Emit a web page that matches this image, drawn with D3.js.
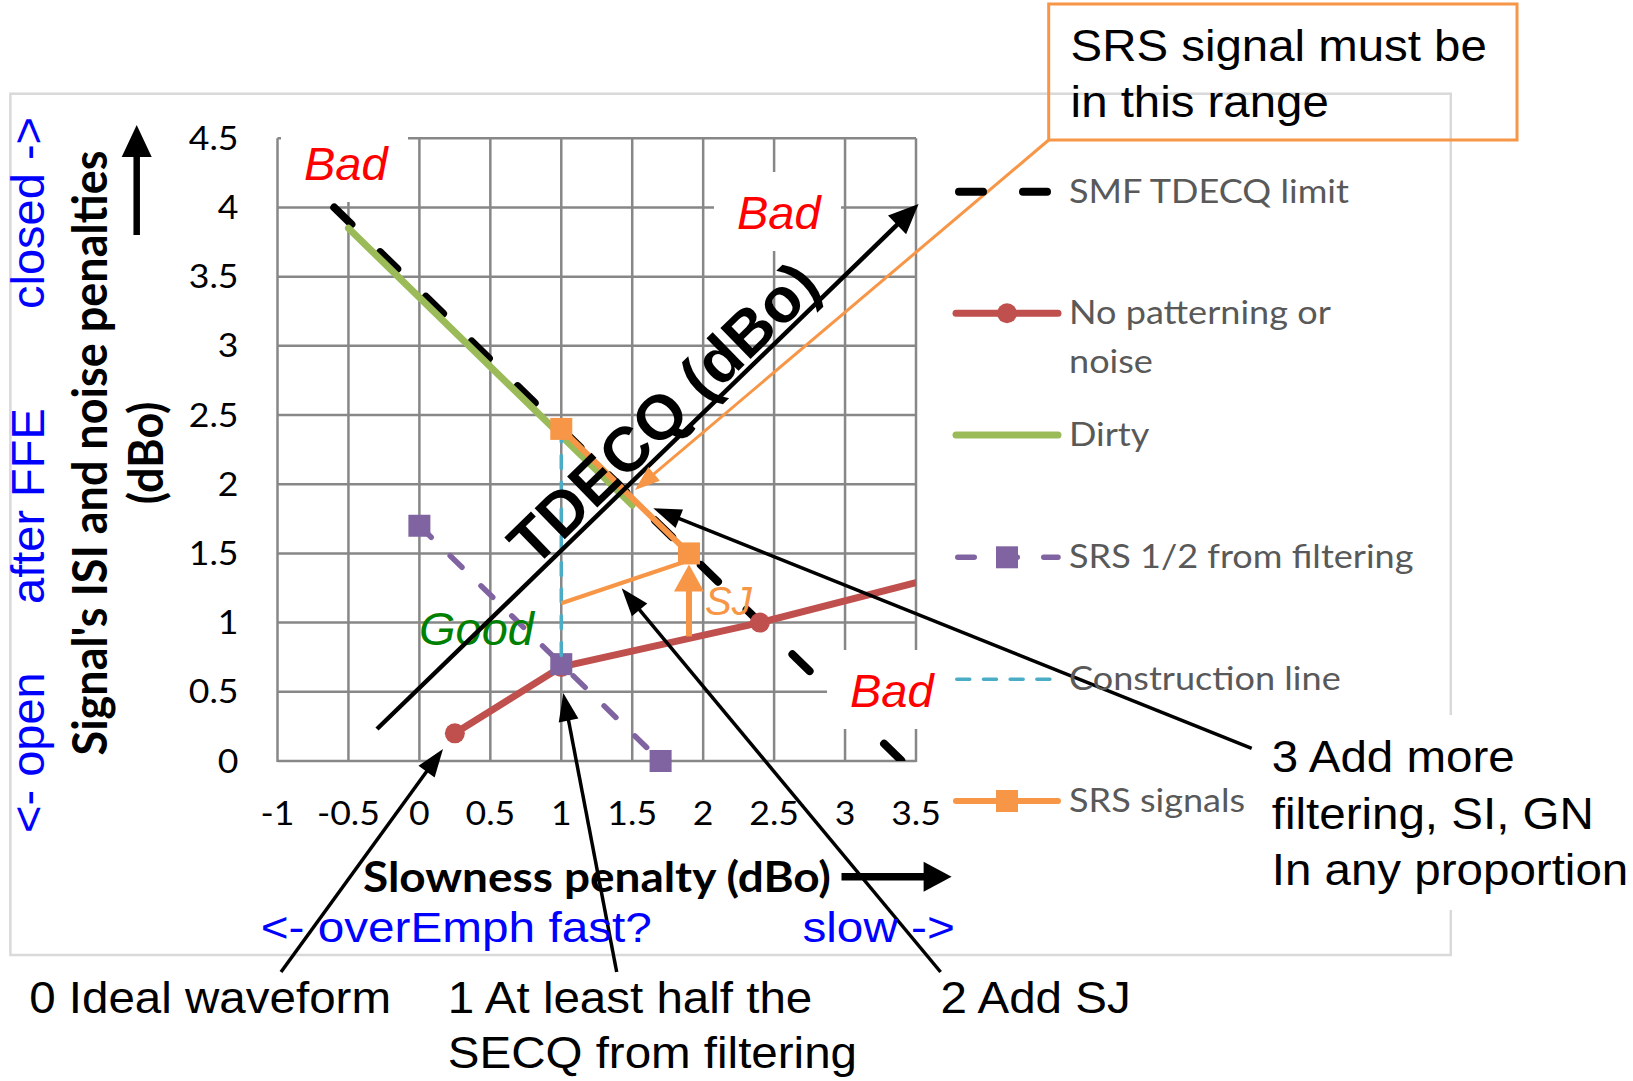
<!DOCTYPE html>
<html><head><meta charset="utf-8">
<script src="https://cdn.jsdelivr.net/npm/d3@7"></script>
<style>
html,body{margin:0;padding:0;background:#fff;}
svg{display:block;}
</style></head>
<body>
<svg id="chart" width="1633" height="1081"></svg>
<script>
// ---------------- data ----------------
const xTicks = [-1, -0.5, 0, 0.5, 1, 1.5, 2, 2.5, 3, 3.5];
const yTicks = [0, 0.5, 1, 1.5, 2, 2.5, 3, 3.5, 4, 4.5];
const xTickLabels = ["-1", "-0.5", "0", "0.5", "1", "1.5", "2", "2.5", "3", "3.5"];
const yTickLabels = ["0", "0.5", "1", "1.5", "2", "2.5", "3", "3.5", "4", "4.5"];
const seriesNames = ["SMF TDECQ limit", "No patterning or noise", "Dirty", "SRS 1/2 from filtering", "Construction line", "SRS signals"];

const smfX = [-0.6, 3.4];          const smfY = [4.0, 0];
const noPatX = [0.25, 1, 2.4, 4];  const noPatY = [0.2, 0.68, 1.0, 1.42];
const dirtyX = [-0.5, 1.5];        const dirtyY = [3.85, 1.85];
const srsHalfX = [0, 1, 1.7];      const srsHalfY = [1.7, 0.7, 0];
const constrX = [1, 1];            const constrY = [2.4, 0.7];
const srsX = [1, 1.9];             const srsY = [2.4, 1.5];

const xTitle = "Slowness penalty (dBo)";
const yTitle = ["Signal's ISI and noise penalties", "(dBo)"];

// ---------------- setup ----------------
const svg = d3.select("#chart");
const x = d3.scaleLinear().domain([-1, 3.5]).range([277.5, 916]);
const y = d3.scaleLinear().domain([0, 4.5]).range([761, 138.3]);
const ARIAL = "'Liberation Sans', Arial, sans-serif";
const CALI = "Lato, Carlito, Calibri, sans-serif";

const zip = (xs, ys) => xs.map((v, i) => [v, ys[i]]);
const series = [
  {name: seriesNames[0], pts: zip(smfX, smfY), color: "#000000", width: 8, dash: "24,40", marker: null},
  {name: seriesNames[1], pts: zip(noPatX, noPatY), color: "#C0504D", width: 7, dash: null, marker: "circle"},
  {name: seriesNames[2], pts: zip(dirtyX, dirtyY), color: "#9BBB59", width: 7, dash: null, marker: null},
  {name: seriesNames[3], pts: zip(srsHalfX, srsHalfY), color: "#8064A2", width: 5.5, dash: "16.5,26.5", marker: "square"},
  {name: seriesNames[4], pts: zip(constrX, constrY), color: "#4BACC6", width: 3.5, dash: "13,13.7", marker: null},
  {name: seriesNames[5], pts: zip(srsX, srsY), color: "#F79646", width: 6, dash: null, marker: "square"}
];

// chart border
svg.append("rect").attr("x", 10.4).attr("y", 93.7).attr("width", 1440.4).attr("height", 861.3)
  .attr("fill", "none").attr("stroke", "#d9d9d9").attr("stroke-width", 2.5);

// clip
svg.append("defs").append("clipPath").attr("id", "plotclip").append("rect")
  .attr("x", x(-1)).attr("y", y(4.5)).attr("width", x(3.5) - x(-1)).attr("height", y(0) - y(4.5));

// grid
const grid = svg.append("g").attr("stroke", "#878787").attr("stroke-width", 2.5);
grid.selectAll("line.v").data(xTicks).join("line").attr("class", "v")
  .attr("x1", d => x(d)).attr("x2", d => x(d)).attr("y1", y(0) + 1).attr("y2", y(4.5));
grid.selectAll("line.h").data(yTicks).join("line").attr("class", "h")
  .attr("y1", d => y(d)).attr("y2", d => y(d)).attr("x1", x(-1)).attr("x2", x(3.5));

// tick labels
svg.append("g").selectAll("text").data(yTicks).join("text")
  .attr("transform", d => `translate(238.5,${y(d) + 11.5}) scale(1.08,1)`).attr("text-anchor", "end")
  .attr("font-family", CALI).attr("font-size", 33).attr("fill", "#000")
  .text((d, i) => yTickLabels[i]);
svg.append("g").selectAll("text").data(xTicks).join("text")
  .attr("transform", d => `translate(${x(d)},825) scale(1.08,1)`).attr("text-anchor", "middle")
  .attr("font-family", CALI).attr("font-size", 33).attr("fill", "#000")
  .text((d, i) => xTickLabels[i]);

// series
const line = d3.line().x(d => x(d[0])).y(d => y(d[1]));
const sg = svg.append("g");
series.forEach(s => {
  sg.append("path").attr("d", line(s.pts)).attr("fill", "none")
    .attr("stroke", s.color).attr("stroke-width", s.width)
    .attr("stroke-linecap", "round").attr("stroke-linejoin", "round")
    .attr("stroke-dasharray", s.dash).attr("clip-path", "url(#plotclip)");
  const vis = s.pts.filter(p => p[0] <= 3.5);
  if (s.marker === "circle") {
    sg.selectAll(null).data(vis).join("circle")
      .attr("cx", d => x(d[0])).attr("cy", d => y(d[1])).attr("r", 10).attr("fill", s.color);
  } else if (s.marker === "square") {
    sg.selectAll(null).data(vis).join("rect")
      .attr("x", d => x(d[0]) - 11).attr("y", d => y(d[1]) - 11)
      .attr("width", 22).attr("height", 22).attr("fill", s.color);
  }
});

// "Bad" boxes
const bads = [[281, 123], [714, 172], [827, 650]];
bads.forEach(b => {
  svg.append("rect").attr("x", b[0]).attr("y", b[1]).attr("width", 127).attr("height", 79).attr("fill", "#fff");
  svg.append("text").attr("x", b[0] + 23).attr("y", b[1] + 57)
    .attr("font-family", ARIAL).attr("font-style", "italic").attr("font-size", 47).attr("fill", "#FF0000").text("Bad");
});
svg.append("text").attr("x", 419).attr("y", 645).attr("font-family", ARIAL).attr("font-style", "italic")
  .attr("font-size", 47).attr("fill", "#008000").text("Good");
svg.append("text").attr("x", 705).attr("y", 615).attr("font-family", ARIAL).attr("font-style", "italic")
  .attr("font-size", 40).attr("fill", "#F79646").text("SJ");

// arrow helper
function arrow(x1, y1, x2, y2, o) {
  const dx = x2 - x1, dy = y2 - y1, L = Math.hypot(dx, dy);
  const ux = dx / L, uy = dy / L, nx = -uy, ny = ux;
  const bx = x2 - ux * o.hl, by = y2 - uy * o.hl;
  svg.append("line").attr("x1", x1).attr("y1", y1).attr("x2", bx + ux * 2).attr("y2", by + uy * 2)
    .attr("stroke", o.color).attr("stroke-width", o.w);
  svg.append("polygon").attr("fill", o.color)
    .attr("points", [[x2, y2], [bx + nx * o.hw / 2, by + ny * o.hw / 2], [bx - nx * o.hw / 2, by - ny * o.hw / 2]].map(p => p.join(",")).join(" "));
}

// orange SJ construction
svg.append("line").attr("x1", x(1)).attr("y1", y(1.14)).attr("x2", x(1.87)).attr("y2", y(1.44))
  .attr("stroke", "#F79646").attr("stroke-width", 4);
arrow(x(1.9), y(0.9), x(1.9), y(1.42), {color: "#F79646", w: 6, hl: 27, hw: 30});

// big TDECQ arrow
const tA = [377, 729], tB = [918.6, 204];
arrow(tA[0], tA[1], tB[0], tB[1], {color: "#000", w: 4.5, hl: 30, hw: 26});
const ang = Math.atan2(tB[1] - tA[1], tB[0] - tA[0]) * 180 / Math.PI;
svg.append("text").attr("transform", `translate(678.5,429) rotate(${ang})`)
  .attr("text-anchor", "middle").attr("font-family", ARIAL).attr("font-weight", "bold")
  .attr("font-size", 63).attr("fill", "#000").text("TDECQ (dBo)");

// callout
svg.append("rect").attr("x", 1048.7).attr("y", 4).attr("width", 468.3).attr("height", 136)
  .attr("fill", "none").attr("stroke", "#F79646").attr("stroke-width", 3);
[["SRS signal must be", 60.7], ["in this range", 117]].forEach(t => {
  svg.append("text").attr("transform", `translate(1070.6,${t[1]}) scale(1.09,1)`)
    .attr("font-family", ARIAL).attr("font-size", 43.5).attr("fill", "#000").text(t[0]);
});
arrow(1048.7, 140, 635, 490, {color: "#F79646", w: 3, hl: 25, hw: 18});

// text box with white background (right)
svg.append("rect").attr("x", 1250).attr("y", 715).attr("width", 383).attr("height", 195).attr("fill", "#fff");

// pointer arrows
const pw = {color: "#000", w: 3.5, hl: 28, hw: 20};
arrow(281, 972, 443, 749, pw);
arrow(616.7, 972, 563.3, 693, pw);
arrow(940.6, 972, 621.7, 588.3, pw);
arrow(1251.7, 748.3, 653.3, 508.3, pw);

// axis direction arrows
arrow(136.7, 235, 136.7, 125, {color: "#000", w: 6.5, hl: 32, hw: 30});
arrow(841.5, 876.7, 951.6, 876.7, {color: "#000", w: 7.5, hl: 28, hw: 30});

// annotation texts
const notes = [
  ["0 Ideal waveform", 29.2, 1013], ["1 At least half the", 447.8, 1013], ["SECQ from filtering", 447.8, 1068],
  ["2 Add SJ", 940.5, 1013], ["3 Add more", 1271.7, 772], ["filtering, SI, GN", 1271.7, 829], ["In any proportion", 1271.7, 885]
];
notes.forEach(t => {
  svg.append("text").attr("transform", `translate(${t[1]},${t[2]}) scale(1.08,1)`)
    .attr("font-family", ARIAL).attr("font-size", 44).attr("fill", "#000").text(t[0]);
});

// blue direction texts
[["<- overEmph fast?", 260.7], ["slow ->", 802.4]].forEach(t => {
  svg.append("text").attr("transform", `translate(${t[1]},942) scale(1.11,1)`)
    .attr("font-family", ARIAL).attr("font-size", 43).attr("fill", "#0000FF").text(t[0]);
});
[["<- open", 833], ["after FFE", 604], ["closed ->", 309]].forEach(t => {
  svg.append("text").attr("transform", `translate(44,${t[1]}) rotate(-90)`)
    .attr("font-family", ARIAL).attr("font-size", 47).attr("fill", "#0000FF").text(t[0]);
});

// axis titles
svg.append("text").attr("transform", "translate(597,891.7) scale(1.08,1)").attr("text-anchor", "middle")
  .attr("font-family", CALI).attr("font-weight", "bold").attr("font-size", 42.5).attr("fill", "#000").text(xTitle);
[[106.7, yTitle[0]], [163, yTitle[1]]].forEach(t => {
  svg.append("text").attr("transform", `translate(${t[0]},453) scale(1.06,1) rotate(-90)`).attr("text-anchor", "middle")
    .attr("font-family", CALI).attr("font-weight", "bold").attr("font-size", 45).attr("fill", "#000").text(t[1]);
});

// legend
const rows = [191.7, 313.3, 435, 557.3, 679.3, 801];
const lg = svg.append("g");
series.forEach((s, i) => {
  const ry = rows[i];
  const x0 = s.dash ? 955 + s.width / 2 : 956, x1 = 1058;
  lg.append("line").attr("x1", x0).attr("x2", x1).attr("y1", ry).attr("y2", ry)
    .attr("stroke", s.color).attr("stroke-width", s.width).attr("stroke-linecap", "round")
    .attr("stroke-dasharray", s.dash);
  if (s.marker === "circle") lg.append("circle").attr("cx", 1007).attr("cy", ry).attr("r", 10).attr("fill", s.color);
  if (s.marker === "square") lg.append("rect").attr("x", 996).attr("y", ry - 11).attr("width", 22).attr("height", 22).attr("fill", s.color);
  const words = s.name === "No patterning or noise" ? ["No patterning or", "noise"] : [s.name];
  words.forEach((w, k) => {
    lg.append("text").attr("transform", `translate(1069,${ry + 11 + k * 49}) scale(1.11,1)`)
      .attr("font-family", CALI).attr("font-size", 32.5).attr("fill", "#595959").text(w);
  });
});
</script>
</body></html>
